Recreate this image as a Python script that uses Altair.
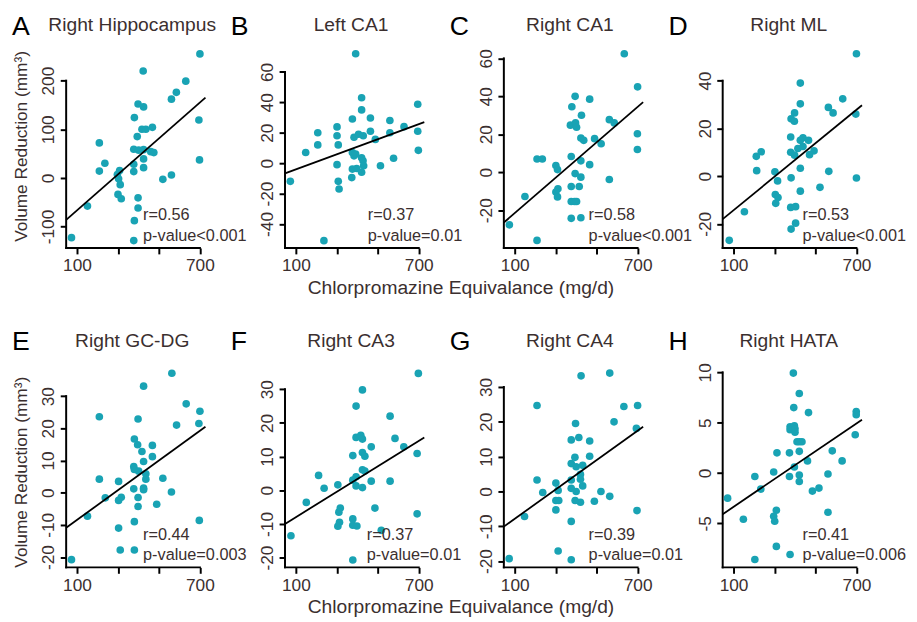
import altair as alt
import pandas as pd

TEAL = "#19a3b4"
INK = "#3b2f2f"
FONT = "Liberation Sans"

X_MIN, X_MAX = 47, 740
W, H = 144, 207
X_TICKS = [100, 200, 300, 400, 500, 600, 700]

letters = ["A", "B", "C", "D", "E", "F", "G", "H"]
titles = ["Right Hippocampus", "Left CA1", "Right CA1", "Right ML",
          "Right GC-DG", "Right CA3", "Right CA4", "Right HATA"]
r_labels = ["r=0.56", "r=0.37", "r=0.58", "r=0.53", "r=0.44", "r=0.37", "r=0.39", "r=0.41"]
p_labels = ["p-value<0.001", "p-value=0.01", "p-value<0.001", "p-value<0.001",
            "p-value=0.003", "p-value=0.01", "p-value=0.01", "p-value=0.006"]
y_domains = [[-144.2, 275.6], [-55.8, 78.4], [-39.9, 67.6], [-30.1, 55.4],
             [-23.2, 40.2], [-22.9, 37.7], [-21.8, 36.8], [-9.38, 10.9]]
y_ticks = [[-100, 0, 100, 200], [-40, -20, 0, 20, 40, 60], [-20, 0, 20, 40, 60], [-20, 0, 20, 40],
           [-20, -10, 0, 10, 20, 30], [-20, -10, 0, 10, 20, 30], [-20, -10, 0, 10, 20, 30], [-5, 0, 5, 10]]

# ---- data ----
A_x = [700, 423, 631, 585, 561, 398, 425, 380, 695, 468, 417, 436, 394, 209, 377, 401, 425, 460, 475, 425,
       236, 698, 425, 377, 377, 209, 308, 297, 303, 311, 519, 561, 300, 316, 398, 398, 151, 380, 73, 377]
A_y = [255, 220, 199, 176, 162, 152, 146, 124, 119, 104, 100, 100, 85, 72, 59, 57, 58, 54, 52, 39,
       30, 37, 21, 28, 13, 14, 15, 7, -2, -14, -3, 6, -34, -43, -41, -62, -58, -88, -123, -129]

B_x = [392, 421, 421, 695, 376, 464, 559, 301, 207, 384, 406, 429, 464, 559, 628, 695, 301, 207, 307, 488,
       148, 376, 384, 392, 421, 428, 431, 376, 397, 421, 301, 513, 577, 698, 373, 307, 311, 73, 237]
B_y = [71.9, 43, 35, 38.7, 29, 29.7, 28, 23.8, 20, 17, 19, 18, 21, 20, 24, 21, 18, 12, 12, 15.6,
       7, 7, 4.8, 6, 3.5, 1.5, -1.7, -3.9, -3.5, -6, -1, -1.7, 3.2, 8.4, -9.5, -12, -17, -12, -51]

C_x = [635, 700, 395, 466, 379, 426, 562, 586, 372, 397, 402, 423, 437, 490, 522, 699, 699, 209, 235, 376,
       423, 466, 301, 309, 395, 423, 562, 376, 415, 311, 301, 309, 150, 376, 392, 402, 376, 423, 74, 209]
C_y = [62.4, 45, 40, 38.5, 34.5, 30, 27.7, 26, 24.8, 26, 23.7, 18, 16.8, 17.7, 15, 20.3, 12, 7, 7, 8.3,
       6, 4, 3.5, 1.4, -0.7, -2.6, -3.8, -7.5, -7.5, -8.7, -10.4, -13, -12.8, -15.4, -15.4, -15.4, -24.3, -24, -27.7, -35.9]

D_x = [700, 633, 426, 426, 563, 586, 697, 398, 381, 397, 379, 439, 466, 426, 414, 439, 493, 471, 379, 398,
       235, 211, 213, 302, 315, 426, 381, 565, 700, 522, 426, 304, 317, 306, 379, 403, 153, 403, 381, 79]
D_y = [51.3, 32.4, 39, 30.3, 28.8, 26.5, 26, 26.5, 24, 23, 16.4, 16.1, 15, 15, 11.6, 12.4, 10.6, 9, 10, 8.8,
       10.2, 8.3, 2.3, 1.8, -2, 3.3, -0.7, 2, -0.8, -4.7, -6.3, -7.7, -9, -11.4, -13.1, -12.8, -14.9, -19.7, -22.2, -26.9]

E_x = [563, 425, 633, 700, 209, 398, 586, 695, 380, 396, 468, 417, 468, 425, 377, 380, 401, 436, 436, 209,
       519, 303, 425, 377, 425, 561, 238, 316, 303, 398, 398, 489, 151, 380, 697, 303, 311, 380, 73]
E_y = [37.1, 33.1, 27.6, 25.3, 23.6, 22.9, 21, 21.5, 16.7, 14.9, 14.7, 12.8, 11.2, 9.7, 8.1, 7.2, 6.7, 5.9, 4.2, 4.2,
       4.5, 3.5, 1.4, 1.2, 0.9, 0.2, -1.6, -1.4, -2.4, -1.5, -4.3, -3.6, -7.3, -9, -8.6, -11, -17.8, -17.8, -20.8]

F_x = [698, 425, 394, 560, 394, 417, 425, 584, 627, 468, 378, 425, 437, 692, 425, 437, 211, 394, 378, 468,
       560, 305, 238, 394, 425, 151, 317, 310, 486, 692, 378, 313, 305, 378, 398, 517, 76, 378]
F_y = [34.7, 29.8, 25, 22, 15.7, 16.3, 15.2, 15.4, 12.9, 12.9, 10.3, 11.2, 10.1, 10.9, 6.1, 5.7, 4.4, 4, 3, 2.7,
       2.7, 1.6, 0.6, 1.3, 0.8, -3.6, -5.3, -6.5, -5.3, -7, -8.5, -9.5, -10.7, -10.4, -10.6, -11.9, -13.5, -20.7]

G_x = [564, 424, 209, 633, 700, 585, 397, 694, 376, 413, 466, 466, 394, 376, 400, 432, 421, 376, 421, 209,
       432, 301, 376, 400, 312, 237, 521, 421, 395, 301, 315, 489, 564, 697, 301, 148, 376, 312, 376, 73]
G_y = [34, 33.2, 24.7, 24.4, 24.7, 20, 19.5, 18.1, 14.8, 15.5, 14.5, 10.1, 9.8, 8, 7.1, 7.5, 4.9, 3.3, 3.5, 3.3,
       1.6, 2.4, 0.9, 0, 0.3, -0.3, 0, -3.1, -2.6, -2.6, -2.6, -2.8, -1.4, -5.5, -5.3, -7.2, -8.6, -17.1, -19.6, -19.3]

H_x = [392, 421, 394, 466, 699, 699, 694, 376, 397, 376, 400, 400, 410, 434, 421, 421, 373, 312, 582, 630,
       461, 397, 296, 421, 561, 373, 204, 421, 233, 485, 517, 71, 309, 561, 296, 301, 148, 309, 376, 204]
H_y = [9.93, 7.9, 6.5, 6.0, 6.1, 5.8, 3.8, 4.6, 4.7, 4.3, 4.4, 4.05, 3.1, 3.1, 3.1, 2.15, 2.0, 2.0, 2.2, 1.2,
       1.2, 0.6, 0.1, -0.2, -0.1, -0.35, -0.35, -0.85, -1.6, -1.8, -1.5, -2.5, -3.7, -3.9, -4.3, -4.8, -4.6, -7.3, -8.1, -8.6]

# regression lines: endpoints
line_x = [47, 727]
A_line = [-86.4, 165]
B_line = [-6.7, 27]
C_line = [-26.5, 36.9]
D_line = [-18.0, 29.7]
E_line = [-10.9, 20.5]
F_line = [-10.0, 15.7]
G_line = [-10.1, 18.6]
H_line = [-4.1, 5.3]

panels_x = [A_x, B_x, C_x, D_x, E_x, F_x, G_x, H_x]
panels_y = [A_y, B_y, C_y, D_y, E_y, F_y, G_y, H_y]
panels_line = [A_line, B_line, C_line, D_line, E_line, F_line, G_line, H_line]

# annotation left offsets (px from plot left)
ann_dx = [78, 84, 86, 81, 78, 83, 86, 81]

HYPHEN = "replace(datum.label, '\u2212', '-')"


def panel(i):
    row = i // 4
    col = i % 4
    pts = pd.DataFrame({"x": panels_x[i], "y": panels_y[i]})
    ln = pd.DataFrame({"x": line_x, "y": panels_line[i]})
    ymin, ymax = y_domains[i]
    xscale = alt.Scale(domain=[X_MIN, X_MAX], nice=False, zero=False)
    yscale = alt.Scale(domain=[ymin, ymax], nice=False, zero=False)

    xaxis_kw = dict(values=X_TICKS, labelExpr="(datum.value - 100) % 300 == 0 ? datum.label : ''",
                    domain=False, grid=False, tickSize=6, tickWidth=2, tickColor="black",
                    labelFontSize=17.5, labelColor=INK, labelFont=FONT, labelPadding=3,
                    labelFlush=False, labelOverlap=False)
    if col == 1:
        xaxis_kw.update(title="Chlorpromazine Equivalance (mg/d)", titleFont=FONT, titleFontSize=19.5,
                        titleFontWeight="normal", titleColor=INK, titleX=178, titleY=46,
                        titleAlign="center", titleBaseline="alphabetic", titleAnchor="start")
        xenc = alt.X("x:Q", scale=xscale, axis=alt.Axis(**xaxis_kw))
    else:
        xenc = alt.X("x:Q", scale=xscale, axis=alt.Axis(**xaxis_kw), title=None)

    yaxis_kw = dict(values=y_ticks[i], domain=False, grid=False, tickSize=6, tickWidth=2, tickColor="black",
                    labelFontSize=17.5, labelColor=INK, labelFont=FONT, labelAngle=270,
                    labelAlign="center", labelBaseline="alphabetic", labelPadding=6.4,
                    labelFlush=False, labelOverlap=False, labelExpr=HYPHEN)
    if col == 0:
        yaxis_kw.update(title="Volume Reduction (mm³)", titleFont=FONT, titleFontSize=17.5,
                        titleFontWeight="normal", titleColor=INK, titleAngle=270,
                        titleX=-45.7, titleY=H / 2 + (0 if row == 0 else 6.5),
                        titleAlign="center", titleBaseline="middle")
        yenc = alt.Y("y:Q", scale=yscale, axis=alt.Axis(**yaxis_kw))
    else:
        yenc = alt.Y("y:Q", scale=yscale, axis=alt.Axis(**yaxis_kw), title=None)

    points = alt.Chart(pts).mark_circle(size=60, color=TEAL, opacity=1).encode(x=xenc, y=yenc)
    reg = alt.Chart(ln).mark_line(color="black", strokeWidth=1.8).encode(x="x:Q", y="y:Q")

    one = pd.DataFrame({"k": [0]})
    yline = alt.Chart(one).mark_rule(color="black", strokeWidth=2, strokeCap="square").encode(
        x=alt.datum(X_MIN), y=alt.datum(ymin), y2=alt.datum(y_ticks[i][-1]))
    xline = alt.Chart(one).mark_rule(color="black", strokeWidth=2, strokeCap="square").encode(
        x=alt.datum(X_MIN), x2=alt.datum(700), y=alt.datum(ymin))

    title_dy = -12.7 if row == 0 else -16.5
    letter_dy = -9 if row == 0 else -13
    lab = pd.DataFrame({"letter": [letters[i]], "title": [titles[i]],
                        "r": [r_labels[i]], "p": [p_labels[i]]})
    letter = alt.Chart(lab).mark_text(fontSize=27, font=FONT, color="black", align="left",
                                      baseline="alphabetic").encode(
        text="letter:N", x=alt.value(-55), y=alt.value(letter_dy))
    title = alt.Chart(lab).mark_text(fontSize=19.5, font=FONT, color=INK, align="center",
                                     baseline="alphabetic").encode(
        text="title:N", x=alt.value(67), y=alt.value(title_dy))
    rtxt = alt.Chart(lab).mark_text(fontSize=16.5, font=FONT, color=INK, align="left",
                                    baseline="middle").encode(
        text="r:N", x=alt.value(ann_dx[i]), y=alt.value(H - 33))
    ptxt = alt.Chart(lab).mark_text(fontSize=16.5, font=FONT, color=INK, align="left",
                                    baseline="middle").encode(
        text="p:N", x=alt.value(ann_dx[i]), y=alt.value(H - 12.5))

    return alt.layer(xline, yline, points, reg, letter, title, rtxt, ptxt).properties(width=W, height=H)


chart = alt.concat(*[panel(i) for i in range(8)], columns=4,
                   spacing={"row": 117, "column": 78}, bounds="flush").properties(
    padding={"left": 4, "top": 1, "right": 2, "bottom": 2}
).configure_view(stroke=None)

chart.save("out.html", embed_options={"renderer": "svg", "actions": False})
